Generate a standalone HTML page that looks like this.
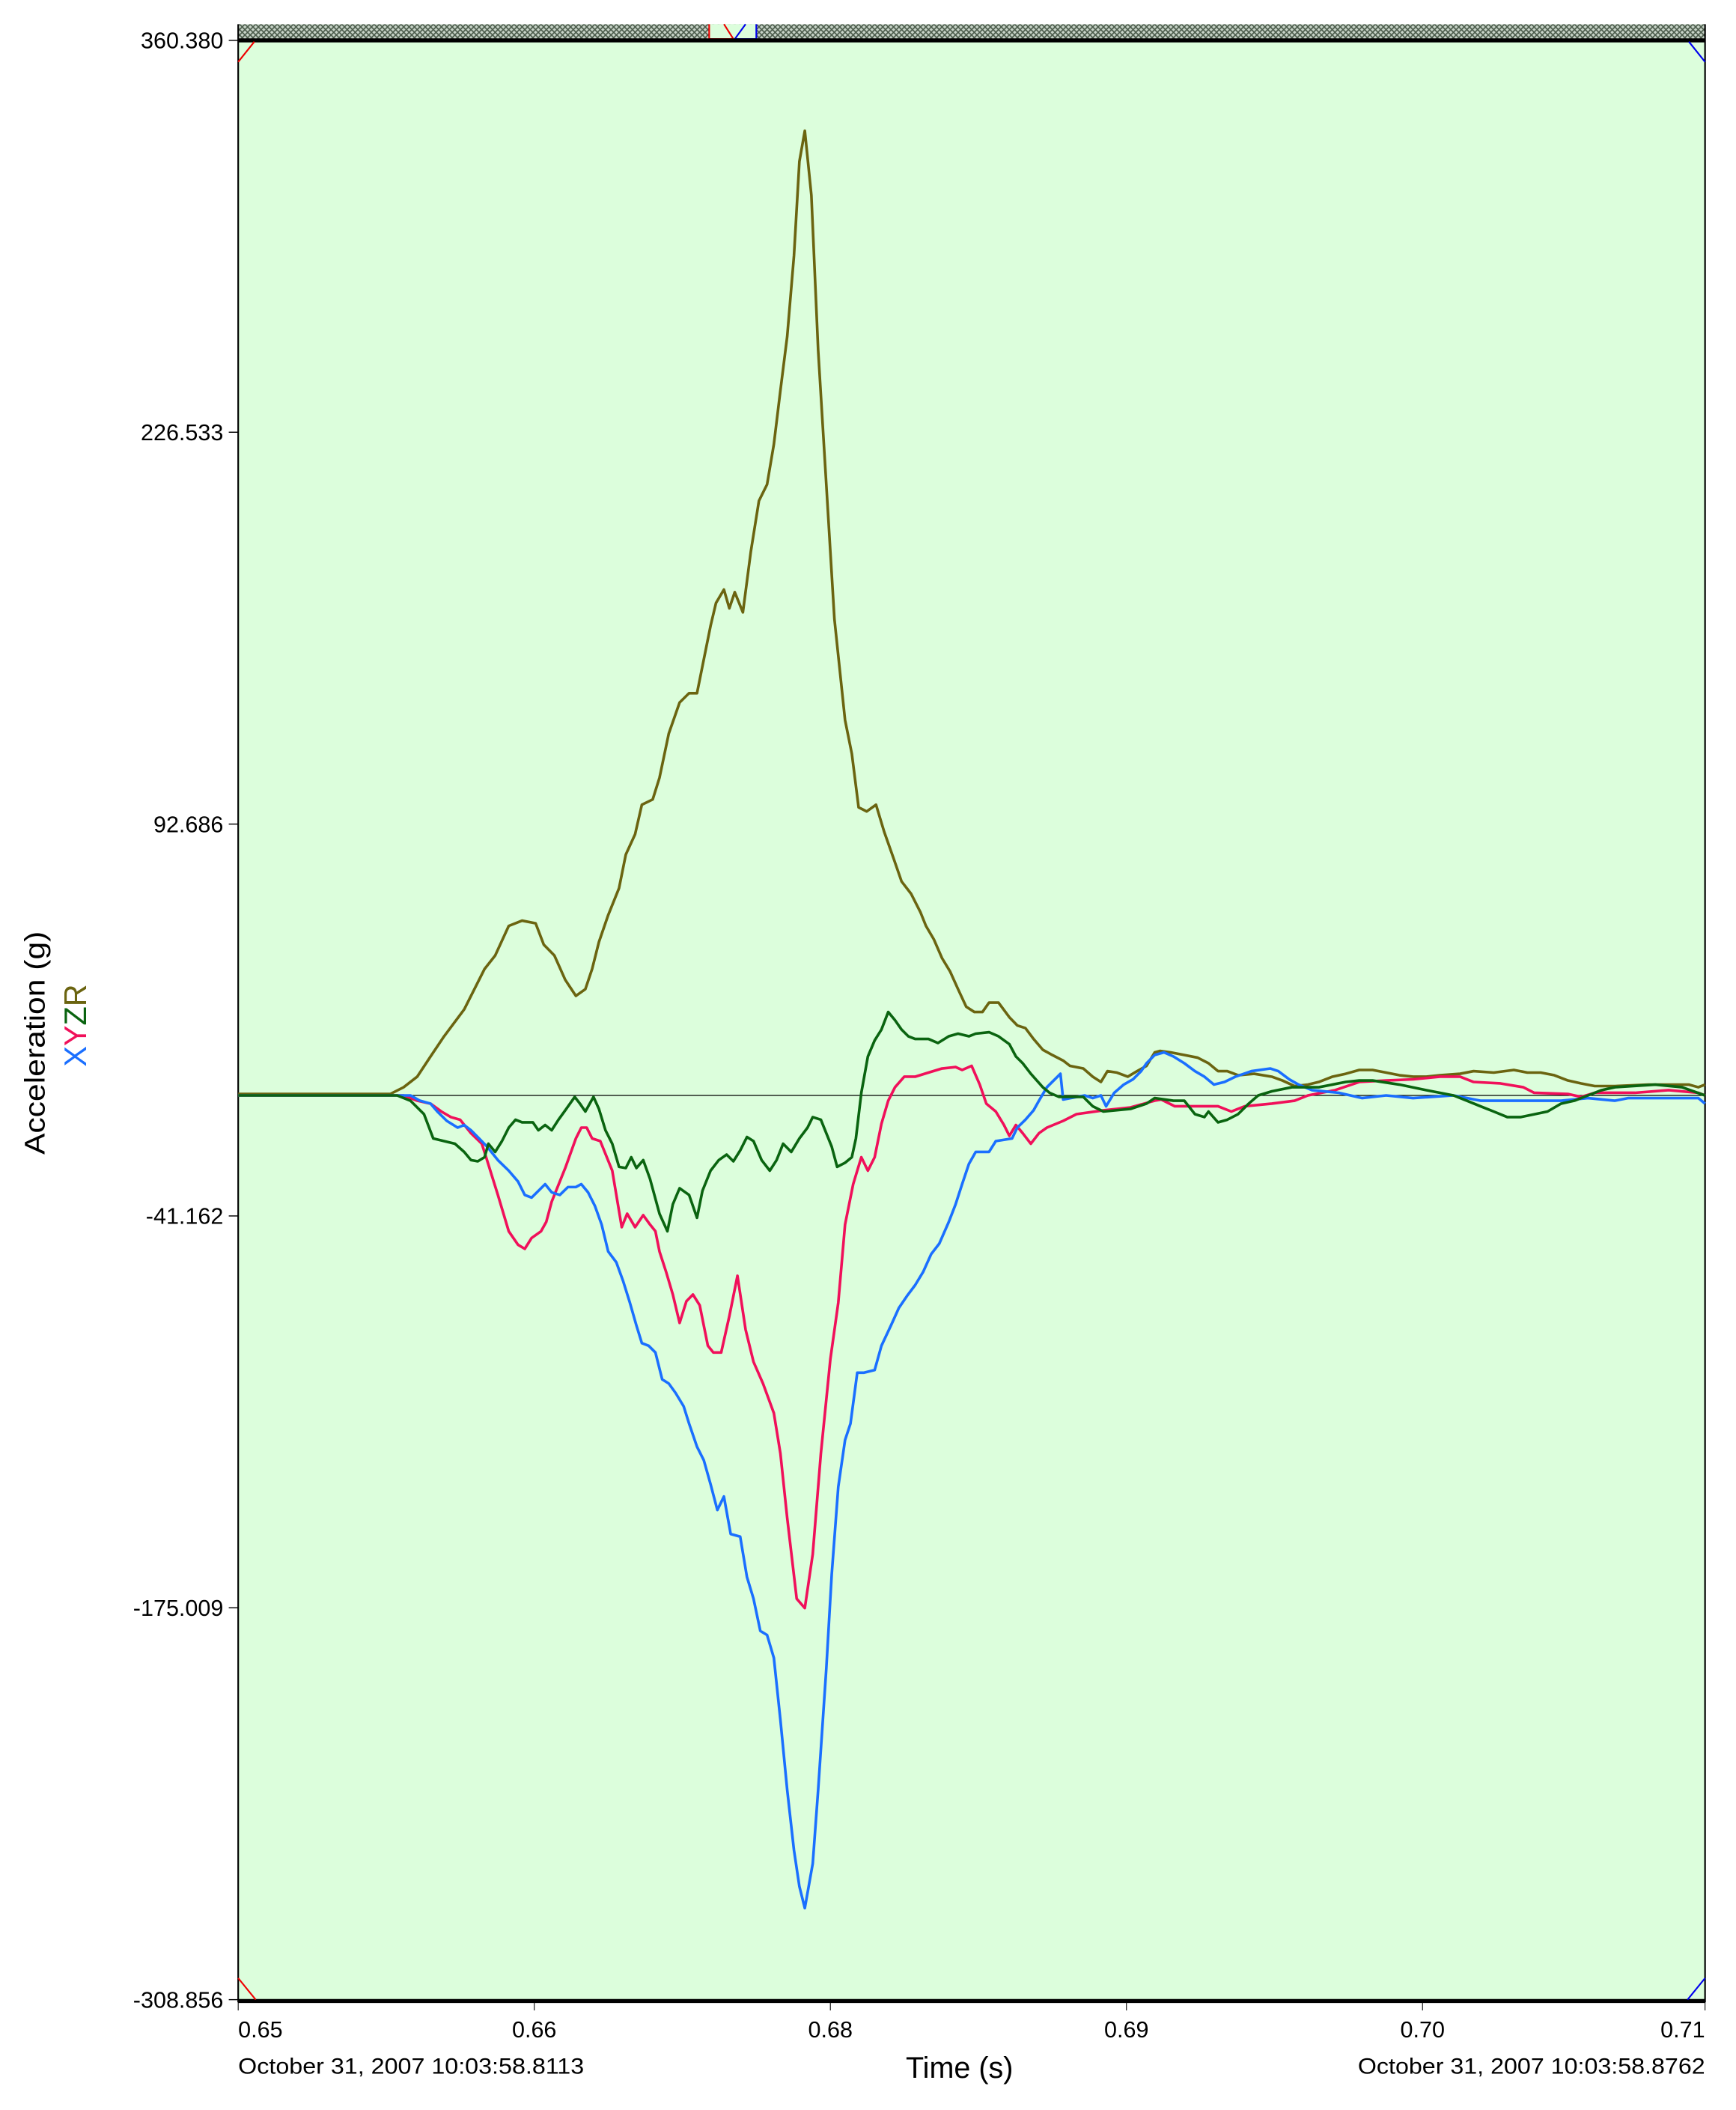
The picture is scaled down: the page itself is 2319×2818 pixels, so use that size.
<!DOCTYPE html>
<html><head><meta charset="utf-8"><style>
html,body{margin:0;padding:0;background:#fff;}
svg{display:block;font-family:"Liberation Sans",Arial,sans-serif;}
</style></head><body>
<svg id="chart" width="2319" height="2818" viewBox="0 0 1290 1568" preserveAspectRatio="none" xmlns="http://www.w3.org/2000/svg">
<defs>
<pattern id="hatch" width="4" height="4" patternUnits="userSpaceOnUse">
<rect width="4" height="4" fill="#c8d4c8"/>
<path d="M0,0 L4,4 M4,0 L0,4" stroke="#4a5a4a" stroke-width="0.9"/>
</pattern>
</defs>
<rect x="177" y="30" width="1090" height="1456" fill="#dcfedc"/>
<rect x="177" y="18" width="1090" height="11" fill="url(#hatch)"/>
<rect x="527" y="18" width="35" height="11" fill="#dcfedc" stroke="none"/>
<path d="M527,18 L527,29 L545,29 L538,18" fill="none" stroke="#e00" stroke-width="1.2"/>
<path d="M554,18 L546,29 L562,29 L562,18" fill="none" stroke="#00e" stroke-width="1.2"/>
<line x1="177" y1="30" x2="1267" y2="30" stroke="#000" stroke-width="3"/>
<line x1="177" y1="1487" x2="1267" y2="1487" stroke="#000" stroke-width="3"/>
<line x1="177" y1="18" x2="177" y2="1488" stroke="#000" stroke-width="1.2"/>
<line x1="1267" y1="18" x2="1267" y2="1488" stroke="#000" stroke-width="1.2"/>
<path d="M177,46 L189,31" stroke="#e00" stroke-width="1.2" fill="none"/>
<path d="M1255,31 L1267,46" stroke="#00e" stroke-width="1.2" fill="none"/>
<path d="M177,1470 L190,1486" stroke="#e00" stroke-width="1.2" fill="none"/>
<path d="M1254,1486 L1267,1470" stroke="#00e" stroke-width="1.2" fill="none"/>
<g id="yaxis"></g>
<g id="xaxis"></g>
<g id="series"></g>
<text transform="translate(33,775) rotate(-90)" text-anchor="middle" font-size="21" textLength="166" lengthAdjust="spacingAndGlyphs" fill="#000">Acceleration (g)</text>
<text transform="translate(64,762) rotate(-90)" text-anchor="middle" font-size="23"><tspan fill="#1a6fff">X</tspan><tspan fill="#f0105a">Y</tspan><tspan fill="#0a6410">Z</tspan><tspan fill="#6b6410">R</tspan></text>
<text x="713" y="1544" text-anchor="middle" font-size="22" fill="#000">Time (s)</text>
<text x="177" y="1541" font-size="16.6" textLength="257" lengthAdjust="spacingAndGlyphs" fill="#000">October 31, 2007 10:03:58.8113</text>
<text x="1009" y="1541" font-size="16.6" textLength="258" lengthAdjust="spacingAndGlyphs" fill="#000">October 31, 2007 10:03:58.8762</text>
</svg>
<script>
// time in ms, values in g
const yTickValues = [360.380, 226.533, 92.686, -41.162, -175.009, -308.856];
const yTickLabels = ["360.380", "226.533", "92.686", "-41.162", "-175.009", "-308.856"];
const xTickTimes = [648.70, 661.80, 674.90, 688.00, 701.10, 713.60];
const xTickLabels = ["0.65", "0.66", "0.68", "0.69", "0.70", "0.71"];

const rTimes = [648.70,655.43,656.02,656.62,657.21,657.81,658.70,659.60,660.07,660.67,661.26,661.86,662.22,662.69,663.17,663.64,664.06,664.36,664.66,665.07,665.55,665.85,666.26,666.56,667.04,667.34,667.75,668.23,668.65,669.00,669.24,669.60,669.84,670.19,670.43,670.67,671.03,671.38,671.74,672.10,672.40,672.69,672.99,673.29,673.53,673.77,674.06,674.36,674.72,675.08,675.55,675.85,676.15,676.51,676.92,677.28,677.70,678.05,678.47,678.89,679.13,679.48,679.84,680.20,680.55,680.91,681.27,681.63,681.92,682.34,682.82,683.17,683.53,683.89,684.30,684.72,685.20,685.50,686.09,686.51,686.87,687.16,687.58,688.06,688.47,688.89,689.25,689.48,689.96,690.56,691.15,691.63,692.05,692.46,692.94,693.65,694.43,694.90,695.44,696.03,696.51,697.11,697.70,698.30,698.89,699.49,700.08,700.68,701.27,701.87,702.76,703.36,704.25,705.14,705.74,706.33,706.93,707.53,708.12,708.72,709.61,711.10,712.88,713.30,713.60];
const rValues = [0.5,0.5,2.8,6.4,13.3,20.2,29.4,43.2,47.8,57.9,59.7,58.8,51.5,47.8,39.5,34.0,36.3,43.2,52.4,61.6,70.8,82.3,89.2,99.3,101.1,108.5,123.6,134.2,137.4,137.4,146.6,160.4,168.2,172.8,166.4,171.9,165.0,185.7,203.1,208.7,222.4,240.8,259.2,286.8,319.0,329.5,307.5,254.6,208.7,162.7,128.2,116.7,98.4,97.0,99.3,90.1,80.9,73.1,68.9,62.5,57.9,53.3,46.9,42.3,36.3,30.3,28.5,28.5,31.7,31.7,26.7,23.9,23.0,19.3,15.6,13.8,11.9,10.1,9.2,6.4,4.6,8.3,7.8,6.4,8.3,10.1,14.7,15.2,14.7,13.8,12.9,11.0,8.3,8.3,6.9,7.4,6.4,5.1,3.2,3.7,4.6,6.4,7.4,8.7,8.7,7.8,6.9,6.4,6.4,6.9,7.4,8.3,7.8,8.7,7.8,7.8,6.9,5.1,4.1,3.2,3.2,3.7,3.7,2.8,3.7];

const yTimes = [648.70,656.02,656.62,657.21,657.69,658.11,658.52,659.00,659.48,659.71,660.19,660.67,661.08,661.38,661.68,662.10,662.33,662.57,663.17,663.64,663.88,664.12,664.36,664.72,665.25,665.67,665.91,666.26,666.62,666.92,667.16,667.34,667.63,667.93,668.23,668.53,668.82,669.12,669.48,669.72,670.07,670.43,670.79,671.15,671.50,671.92,672.40,672.69,672.99,673.41,673.77,674.12,674.48,674.90,675.25,675.55,675.91,676.27,676.56,676.86,677.16,677.46,677.76,678.17,678.65,679.24,679.84,680.44,680.73,681.15,681.51,681.80,682.22,682.58,682.82,683.11,683.41,683.77,684.13,684.48,685.20,685.79,686.98,688.18,689.25,689.54,690.14,691.15,692.05,692.64,693.24,694.43,695.44,696.03,697.23,698.30,699.49,700.68,701.87,702.76,703.36,704.55,705.56,706.04,707.53,708.12,708.72,710.50,711.99,713.30,713.60];
const yValues = [0,0,-1.8,-2.8,-5.5,-7.4,-8.3,-12.9,-16.5,-22.1,-34.0,-46.4,-51.0,-52.4,-48.7,-46.4,-43.2,-36.3,-24.8,-14.7,-11.0,-11.0,-14.7,-15.6,-25.7,-45.0,-40.4,-45.0,-40.9,-44.1,-46.4,-53.3,-60.2,-68.0,-77.7,-70.3,-68.0,-71.7,-85.5,-87.8,-87.8,-75.4,-61.6,-80.0,-91.0,-98.4,-108.5,-122.3,-144.3,-171.9,-175.1,-156.7,-122.3,-90.1,-70.8,-44.1,-30.3,-21.1,-25.7,-21.1,-9.7,-1.8,2.8,6.4,6.4,7.8,9.2,9.7,8.7,10.1,3.7,-2.8,-5.5,-10.1,-13.8,-10.1,-12.9,-16.5,-12.9,-11.0,-8.7,-6.4,-5.1,-4.1,-1.8,-1.4,-3.7,-3.7,-3.7,-5.5,-3.7,-2.8,-1.8,0,1.8,4.6,5.1,5.5,6.4,6.4,4.6,4.1,2.8,0.9,0.5,-0.5,0.9,0.9,1.8,0.9,0];

const xTimes = [648.70,656.32,656.74,657.21,657.51,657.93,658.41,658.70,659.00,659.36,659.71,660.19,660.67,661.08,661.38,661.68,661.98,662.28,662.57,662.93,663.29,663.64,663.88,664.18,664.48,664.78,665.07,665.43,665.73,666.03,666.32,666.56,666.86,667.16,667.46,667.75,668.05,668.41,668.65,669.00,669.30,669.60,669.90,670.19,670.49,670.91,671.21,671.50,671.80,672.10,672.40,672.69,672.99,673.29,673.53,673.77,674.12,674.36,674.72,674.96,675.25,675.55,675.79,676.09,676.39,676.86,677.16,677.58,677.93,678.29,678.65,679.01,679.36,679.72,680.14,680.44,680.73,681.03,681.33,681.92,682.22,682.94,683.17,683.53,683.89,684.13,684.48,685.08,685.20,686.15,686.51,686.87,687.10,687.46,687.88,688.29,688.65,688.89,689.25,689.66,690.08,690.56,691.03,691.45,691.87,692.34,692.82,693.53,694.37,694.72,695.20,695.62,696.21,697.40,698.42,699.49,700.68,702.47,703.66,707.23,708.42,709.61,710.21,713.30,713.60];
const xValues = [0,0,-1.8,-2.8,-5.5,-8.7,-11.0,-10.1,-11.9,-14.7,-17.5,-22.1,-25.7,-29.4,-34.0,-34.9,-32.6,-30.3,-33.1,-34.0,-31.3,-31.3,-30.3,-33.1,-37.7,-44.1,-53.3,-57.0,-63.4,-70.8,-78.6,-84.6,-85.5,-87.8,-97.0,-98.4,-101.6,-106.2,-112.1,-120.0,-124.6,-132.8,-141.6,-137.0,-149.8,-150.7,-164.5,-171.9,-182.9,-184.3,-192.1,-213.3,-237.2,-257.8,-270.2,-277.6,-262.4,-237.2,-195.8,-163.6,-133.7,-117.7,-112.1,-94.7,-94.7,-93.8,-85.5,-78.6,-72.6,-68.5,-64.8,-60.2,-54.2,-50.6,-43.2,-37.2,-30.3,-23.4,-19.3,-19.3,-15.6,-14.7,-11.0,-8.3,-5.1,-1.8,2.8,7.4,-1.4,0,-0.9,0,-3.7,0.9,3.7,5.5,8.3,11.0,13.8,14.7,13.3,11.0,8.3,6.4,3.7,4.6,6.4,8.3,9.2,8.3,5.5,3.7,1.8,0.9,-0.9,0,-0.9,0,-1.8,-1.8,-0.9,-1.8,-0.9,-0.9,-2.8];

const zTimes = [648.70,655.73,656.32,656.92,657.33,657.81,658.29,658.70,659.00,659.30,659.60,659.77,660.07,660.37,660.67,660.97,661.26,661.74,661.98,662.28,662.57,662.87,663.17,663.59,663.82,664.06,664.42,664.66,664.95,665.25,665.55,665.85,666.09,666.32,666.62,666.92,667.34,667.69,667.93,668.23,668.65,669.00,669.24,669.60,669.96,670.31,670.61,670.91,671.21,671.50,671.86,672.22,672.52,672.81,673.17,673.53,673.89,674.12,674.48,674.96,675.20,675.55,675.85,676.03,676.27,676.56,676.86,677.16,677.46,677.76,678.05,678.35,678.65,679.24,679.66,680.14,680.55,681.03,681.33,681.92,682.34,682.82,683.11,683.41,683.77,684.30,684.60,685.02,686.09,686.51,686.98,688.18,688.89,689.25,690.08,690.56,691.03,691.45,691.63,692.05,692.46,692.94,693.41,693.83,694.43,695.32,696.51,697.70,698.30,698.89,700.08,701.27,702.47,703.06,703.66,704.25,704.85,705.44,706.63,707.23,707.82,708.42,709.02,709.61,711.40,712.58,713.60];
const zValues = [0,0,-1.8,-6.4,-14.7,-15.6,-16.5,-19.3,-22.1,-22.5,-21.1,-16.5,-19.3,-15.6,-11.0,-8.3,-9.2,-9.2,-11.9,-10.1,-11.9,-8.3,-5.1,-0.5,-2.8,-5.5,-0.5,-4.6,-11.9,-16.5,-24.4,-24.8,-21.1,-24.8,-22.1,-28.5,-40.4,-46.4,-37.2,-31.7,-34.0,-41.8,-32.6,-25.7,-22.1,-20.2,-22.5,-18.8,-14.2,-15.6,-22.1,-25.7,-22.1,-16.5,-19.3,-14.7,-11.0,-7.4,-8.3,-17.5,-24.4,-23.0,-21.1,-14.7,0.9,13.3,18.8,22.5,28.5,25.7,22.5,20.2,19.3,19.3,17.9,20.2,21.1,20.2,21.1,21.6,20.2,17.5,13.3,11.0,7.4,2.8,0.9,-0.5,-0.5,-3.7,-5.5,-4.6,-2.8,-0.9,-1.8,-1.8,-6.4,-7.4,-5.5,-9.2,-8.3,-6.4,-2.8,0,1.4,2.8,2.8,4.6,5.1,5.1,3.7,1.8,0,-1.8,-3.7,-5.5,-7.4,-7.4,-5.5,-2.8,-1.8,0,1.8,2.8,3.7,2.8,0];

const X0 = 177, X1 = 1267, Y0 = 30, Y1 = 1486;
const tMin = 648.70, tMax = 713.60, vMax = 360.380, vMin = -308.856;
function xScale(t){ return X0 + (t - tMin) / (tMax - tMin) * (X1 - X0); }
function yScale(v){ return Y0 + (vMax - v) / (vMax - vMin) * (Y1 - Y0); }
const NS = "http://www.w3.org/2000/svg";
function mk(tag, attrs, parent){ const e = document.createElementNS(NS, tag); for (const k in attrs) e.setAttribute(k, attrs[k]); parent.appendChild(e); return e; }

const yAxis = document.getElementById('yaxis');
yTickValues.forEach((v, i) => {
  const y = yScale(v);
  const tk = mk('line', {x1: 170, y1: y, x2: 177, y2: y, stroke: '#000', 'stroke-width': 0.8}, yAxis);
  
  
  const lb = mk('text', {x: 166, y: y + 6, 'text-anchor': 'end', 'font-size': 17, fill: '#000'}, yAxis);
  lb.textContent = yTickLabels[i];
  
  
});
const zl = mk('line', {x1: X0, y1: yScale(0), x2: X1, y2: yScale(0), stroke: '#000', 'stroke-width': 0.7}, yAxis);



const xAxis = document.getElementById('xaxis');
xTickTimes.forEach((t, i) => {
  const x = xScale(t);
  const tk = mk('line', {x1: x, y1: 1488, x2: x, y2: 1494, stroke: '#000', 'stroke-width': 0.6}, xAxis);
  
  
  const anchor = i === 0 ? 'start' : (i === xTickTimes.length - 1 ? 'end' : 'middle');
  const lb = mk('text', {x: x, y: 1514, 'text-anchor': anchor, 'font-size': 17, fill: '#000'}, xAxis);
  lb.textContent = xTickLabels[i];
  
  
});

const seriesG = document.getElementById('series');
function drawSeries(times, values, color, name){
  let d = '';
  times.forEach((t, i) => { d += (i ? 'L' : 'M') + xScale(t).toFixed(2) + ',' + yScale(values[i]).toFixed(2); });
  const p = mk('path', {d: d, fill: 'none', stroke: color, 'stroke-width': 2, 'stroke-linejoin': 'round'}, seriesG);
  
  
}
drawSeries(rTimes, rValues, '#6b6410', 'series-r-line');
drawSeries(yTimes, yValues, '#f0105a', 'series-y-line');
drawSeries(xTimes, xValues, '#1a6fff', 'series-x-line');
drawSeries(zTimes, zValues, '#0a6410', 'series-z-line');
</script>
</body></html>
